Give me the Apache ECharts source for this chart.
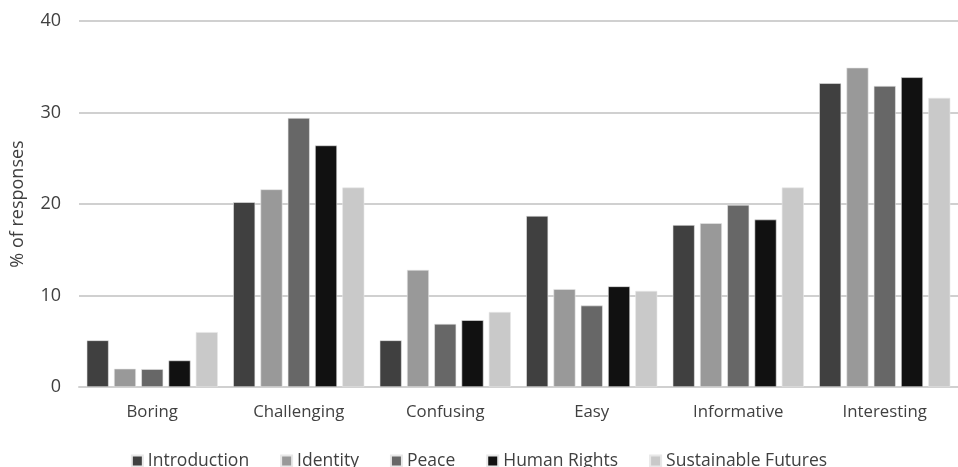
<!DOCTYPE html>
<html><head><meta charset="utf-8">
<script src="https://cdn.jsdelivr.net/npm/echarts@6/dist/echarts.min.js"></script>
<style>html,body{margin:0;padding:0;background:#fff}#c{width:958px;height:467px}</style>
</head><body><div id="c"></div>
<script>
const categories = ["Boring","Challenging","Confusing","Easy","Informative","Interesting"];
const seriesNames = ["Introduction","Identity","Peace","Human Rights","Sustainable Futures"];
const introduction = [5.1, 20.2, 5.1, 18.7, 17.7, 33.2];
const identity = [2.0, 21.6, 12.8, 10.7, 17.9, 34.9];
const peace = [1.95, 29.4, 6.9, 8.9, 19.9, 32.9];
const humanRights = [2.9, 26.4, 7.3, 11.0, 18.3, 33.85];
const sustainableFutures = [6.0, 21.8, 8.2, 10.5, 21.8, 31.6];
const yTicks = [0, 10, 20, 30, 40];
const colors = ["#404040","#999999","#676767","#111111","#c9c9c9"];
const values = [introduction, identity, peace, humanRights, sustainableFutures];
const font = "Open Sans";
const chart = echarts.init(document.getElementById('c'));
chart.setOption({
  animation:false,
  grid:{left:79,right:0,top:21,bottom:80},
  legend:{top:447,left:'center',itemWidth:11,itemHeight:11,itemGap:31,icon:'rect',
    textStyle:{fontFamily:font,fontSize:17.5,color:'#404040'},data:seriesNames},
  xAxis:{type:'category',data:categories,axisTick:{show:false},
    axisLine:{lineStyle:{color:'#d0d0d0',width:2}},
    axisLabel:{fontFamily:font,fontSize:16.8,color:'#404040',margin:17}},
  yAxis:{type:'value',min:yTicks[0],max:yTicks[yTicks.length-1],interval:10,
    name:'% of responses',nameLocation:'middle',nameGap:52,
    nameTextStyle:{fontFamily:font,fontSize:18,color:'#404040'},
    axisLabel:{fontFamily:font,fontSize:18,color:'#404040',margin:18},
    splitLine:{lineStyle:{color:'#d0d0d0',width:2}}},
  series: seriesNames.map((n,i)=>({name:n,type:'bar',data:values[i],barWidth:22,barGap:'24%',barCategoryGap:'10%',
    itemStyle:{color:colors[i],borderColor:'#e8e8e8',borderWidth:0.6}}))
});
</script></body></html>
